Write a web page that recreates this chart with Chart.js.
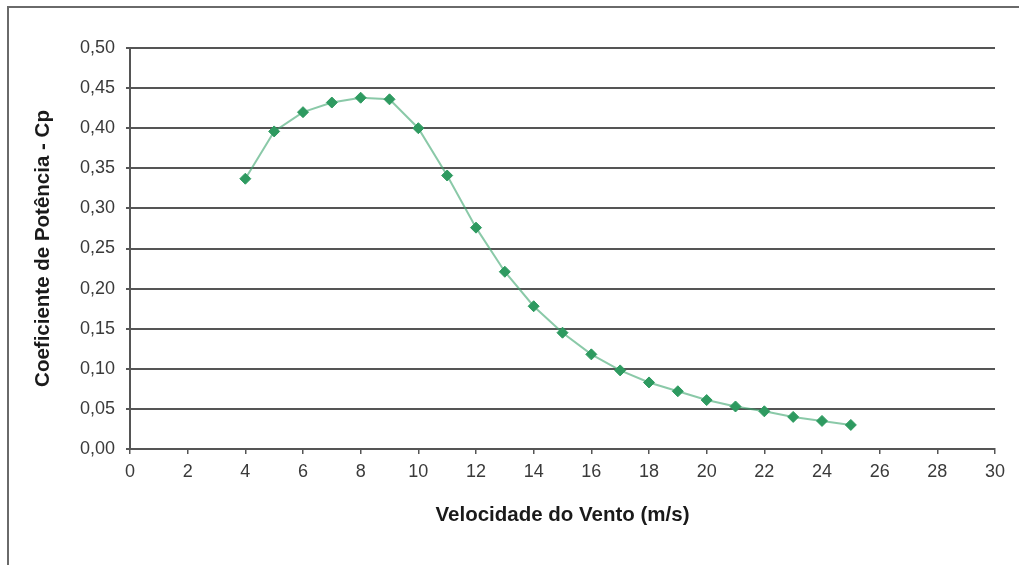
<!DOCTYPE html>
<html>
<head>
<meta charset="utf-8">
<script src="https://cdn.jsdelivr.net/npm/chart.js@4/dist/chart.umd.min.js"></script>
<style>
  body { margin: 0; background: #fff; overflow: hidden; }
  .frame { position: absolute; left: 7px; top: 6px; width: 2000px; height: 2000px; border: 2px solid #6a6a6a; }
  .wrap { position: absolute; left: 0; top: 0; width: 1019px; height: 565px; }
</style>
</head>
<body>
<div class="frame"></div>
<div class="wrap"><canvas id="cp"></canvas></div>
<script>
// velocidade do vento (m/s)
const windSpeed = [4, 5, 6, 7, 8, 9, 10, 11, 12, 13, 14, 15, 16, 17, 18, 19, 20, 21, 22, 23, 24, 25];
// coeficiente de potencia
const cpValues = [0.337, 0.396, 0.420, 0.432, 0.438, 0.436, 0.400, 0.341, 0.276, 0.221, 0.178, 0.145,
                  0.118, 0.098, 0.083, 0.072, 0.061, 0.053, 0.047, 0.040, 0.035, 0.030];
const xLabel = 'Velocidade do Vento (m/s)';
const yLabel = 'Coeficiente de Potência - Cp';

const gridColor = '#555555';
const tickColor = '#3a3a3a';

let points = windSpeed.map(function (v, i) {
  return { x: v, y: cpValues[i] };
});

const config = {
  type: 'line',
  data: {
    datasets: [
      {
        label: 'Cp',
        data: points,
        borderColor: 'rgba(60, 165, 110, 0.6)',
        borderWidth: 2,
        backgroundColor: '#2e9a60',
        pointBackgroundColor: '#2e9a60',
        pointBorderColor: '#2e9a60',
        pointBorderWidth: 1,
        pointStyle: 'rectRot',
        pointRadius: 5.5,
        tension: 0,
        fill: false,
      },
    ],
  },
  options: {
    responsive: true,
    maintainAspectRatio: false,
    animation: false,
    layout: {
      padding: { left: 0, right: 24, top: 48, bottom: 0 },
    },
    plugins: {
      legend: { display: false },
      tooltip: { enabled: false },
    },
    scales: {
      x: {
        type: 'linear',
        min: 0,
        max: 30,
        afterFit: function (scale) {
          scale.height = 116;
        },
        ticks: {
          stepSize: 2,
          padding: 7,
          color: tickColor,
          font: { family: 'Liberation Sans, Arial, sans-serif', size: 18 },
        },
        grid: {
          display: true,
          drawOnChartArea: false,
          drawTicks: true,
          tickLength: 5,
          color: gridColor,
          lineWidth: 1.5,
        },
        border: { display: true, color: gridColor, width: 2 },
        title: {
          display: true,
          text: xLabel,
          color: '#1a1a1a',
          padding: { top: 0, bottom: 37 },
          font: { family: 'Liberation Sans, Arial, sans-serif', size: 20.5, weight: 'bold' },
        },
      },
      y: {
        min: 0,
        max: 0.5,
        afterFit: function (scale) {
          scale.width = 130;
        },
        ticks: {
          stepSize: 0.05,
          padding: 11,
          color: tickColor,
          font: { family: 'Liberation Sans, Arial, sans-serif', size: 18 },
          callback: function (value) {
            return value.toFixed(2).replace('.', ',');
          },
        },
        grid: {
          display: true,
          drawTicks: true,
          tickLength: 4,
          color: gridColor,
          lineWidth: 2,
        },
        border: { display: true, color: gridColor, width: 2 },
        title: {
          display: true,
          text: yLabel,
          color: '#1a1a1a',
          padding: { top: 31, bottom: 0 },
          font: { family: 'Liberation Sans, Arial, sans-serif', size: 20.5, weight: 'bold' },
        },
      },
    },
  },
};

new Chart(document.getElementById('cp'), config);
</script>
</body>
</html>
